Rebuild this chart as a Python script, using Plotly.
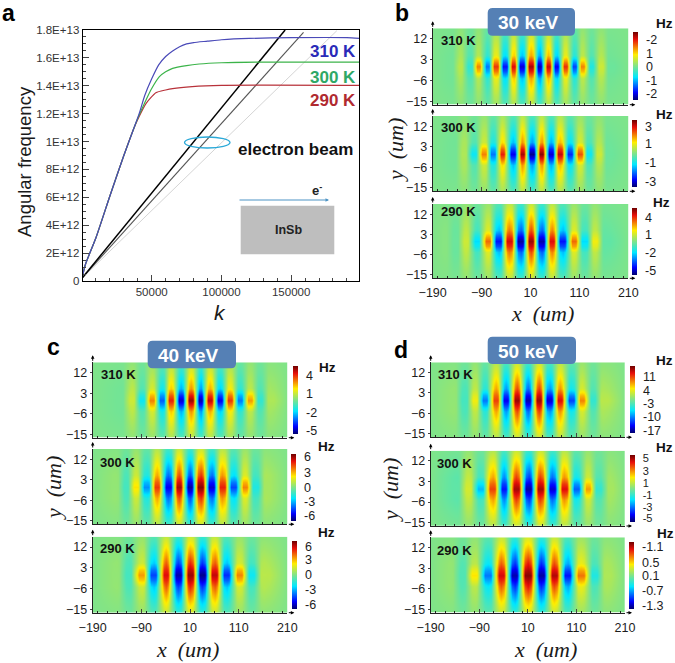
import plotly.graph_objects as go

W, H = 675, 663

# ---------- panel a: dispersion curves ----------
K_310 = [0, 2500, 10000, 20000, 30000, 37000, 41000, 45000, 50000, 55000, 60000, 65000, 70000, 75000, 80000, 90000, 100000, 120000, 150000, 190000, 198900]
W_310 = [0.2e12, 1.2e12, 3.1e12, 6.1e12, 9.0e12, 1.09e13, 1.2e13, 1.33e13, 1.45e13, 1.55e13, 1.61e13, 1.65e13, 1.68e13, 1.70e13, 1.71e13, 1.72e13, 1.73e13, 1.74e13, 1.745e13, 1.745e13, 1.74e13]
K_300 = [0, 2500, 10000, 20000, 30000, 37000, 41000, 46000, 50000, 55500, 60000, 65000, 75000, 84000, 100000, 130000, 198900]
W_300 = [0.2e12, 1.2e12, 3.1e12, 6.1e12, 9.0e12, 1.09e13, 1.19e13, 1.30e13, 1.38e13, 1.465e13, 1.50e13, 1.525e13, 1.545e13, 1.556e13, 1.565e13, 1.57e13, 1.57e13]
K_290 = [0, 2500, 10000, 20000, 30000, 37000, 41000, 46000, 53000, 60000, 65000, 79000, 100000, 198900]
W_290 = [0.2e12, 1.2e12, 3.1e12, 6.1e12, 9.0e12, 1.09e13, 1.18e13, 1.274e13, 1.35e13, 1.37e13, 1.38e13, 1.394e13, 1.403e13, 1.403e13]
BEAM_50_K = [0, 145700]
BEAM_50_W = [0.2e12, 1.8e13]
BEAM_40_K = [0, 158900]
BEAM_40_W = [0.2e12, 1.783e13]
BEAM_30_K = [0, 182800]
BEAM_30_W = [0.2e12, 1.795e13]
A_XTICKS = [50000, 100000, 150000]
A_YTICKS = [0, 2e12, 4e12, 6e12, 8e12, 1e13, 1.2e13, 1.4e13, 1.6e13, 1.8e13]
A_YLABELS = ["0", "2E+12", "4E+12", "6E+12", "8E+12", "1E+13", "1.2E+13", "1.4E+13", "1.6E+13", "1.8E+13"]

# ---------- field maps: stripe centres (um), value along y=0, value at |y|=5 ----------
B310_X = [-190,-152,-134,-114,-97,-79,-61,-43,-25,-8,10,28,46,63,81,99,116,134,153,172,210]
B310_CORE = [0,-.03,.15,-.2,.55,-.55,.7,-.75,.8,-.85,.9,-.9,.85,-.8,.72,-.65,.55,-.25,.2,-.05,0]
B310_MID = [0,-.03,.1,-.1,.12,-.18,.25,-.3,.35,-.35,.42,-.4,.38,-.32,.25,-.2,.14,-.1,.12,-.03,0]
B300_X = [-190,-148,-127,-105,-86,-67,-48,-27,-7,12,32,51,70,90,110,129,149,168,210]
B300_CORE = [0,-.03,.12,-.3,.55,-.55,.75,-.8,.9,-.95,.95,-.85,.85,-.7,.65,-.3,.2,-.05,0]
B300_MID = [0,-.03,.1,-.1,.18,-.22,.32,-.36,.45,-.42,.45,-.38,.38,-.28,.2,-.12,.12,-.04,0]
B290_X = [-190,-165,-144,-122,-100,-78,-56,-34,-11,10,32,53,75,98,120,142,162,210]
B290_CORE = [0,.02,-.05,.2,-.35,.6,-.75,.82,-.92,.92,-.9,.8,-.75,.6,-.35,.3,-.08,0]
B290_MID = [0,.02,-.05,.15,-.14,.22,-.36,.5,-.52,.58,-.52,.48,-.36,.22,-.14,.15,-.06,0]
C310_X = [-190,-132,-110,-89,-69,-49,-29,-9,11,31,51,72,92,112,132,153,174,210]
C310_CORE = [0,-.03,.2,-.3,.55,-.6,.75,-.85,.92,-.9,.85,-.8,.7,-.55,.5,-.2,.12,0]
C310_MID = [0,-.03,.14,-.1,.2,-.25,.35,-.38,.45,-.42,.4,-.32,.28,-.18,.14,-.1,.08,0]
C300_X = [-190,-144,-122,-101,-80,-58,-35,-13,9,31,54,76,99,122,144,166,210]
C300_CORE = [0,.05,-.15,.35,-.5,.7,-.8,.9,-.92,.95,-.85,.75,-.65,.55,-.25,.1,0]
C300_MID = [0,.05,-.12,.18,-.22,.42,-.5,.58,-.55,.62,-.5,.45,-.3,.22,-.14,.1,0]
C290_X = [-190,-141,-117,-89,-65,-40,-15,10,35,60,85,111,135,161,210]
C290_CORE = [0,.05,-.15,.5,-.65,.8,-.9,.92,-.95,.85,-.7,.55,-.3,.15,0]
C290_MID = [0,.05,-.12,.18,-.34,.55,-.58,.65,-.6,.55,-.35,.2,-.14,.12,0]
D310_X = [-190,-143,-121,-100,-78,-57,-35,-13,10,32,54,76,99,121,143,165,210]
D310_CORE = [0,.05,-.15,.3,-.55,.68,-.8,.92,-.9,.92,-.85,.8,-.65,.55,-.2,.15,0]
D310_MID = [0,.05,-.12,.15,-.2,.42,-.42,.58,-.5,.6,-.42,.45,-.25,.2,-.1,.1,0]
D300_X = [-190,-137,-113,-89,-63,-40,-15,11,35,60,84,109,133,155,178,210]
D300_CORE = [0,-.08,.22,-.42,.68,-.75,.9,-.92,.9,-.85,.8,-.6,.5,-.2,.1,0]
D300_MID = [0,-.08,.16,-.14,.42,-.45,.6,-.58,.6,-.5,.45,-.25,.18,-.1,.08,0]
D290_X = [-190,-150,-126,-100,-73,-45,-18,10,37,64,91,119,146,172,210]
D290_CORE = [0,.05,-.12,.35,-.55,.82,-.9,.95,-.92,.88,-.75,.58,-.25,.12,0]
D290_MID = [0,.05,-.1,.14,-.28,.55,-.6,.68,-.62,.58,-.4,.25,-.12,.1,0]

# rows of the map: y, share of the y=0 value, share of the |y|=5 value
ROW_Y = [-16.5, -12, -5, -2, 0, 2, 5, 12, 16.5]
ROW_CORE = [0, 0, 0, .68, 1, .68, 0, 0, 0]
ROW_MID = [.33, .62, 1.15, .36, 0, .36, 1.15, .62, .33]
# shoulder of a stripe: distance from its centre (share of the gap to the neighbour)
# and the share of the stripe's value kept there at y=0 and away from y=0
SHOULDER = 0.2
SHOULDER_CORE = 1.0
SHOULDER_MID = 0.85
X_TICKS = [-190, -90, 10, 110, 210]
Y_TICKS = [12, 3, -6, -15]

# colour bar labels (position on the scale, text)
B310_CB = ([.79, .38, -.01, -.44, -.82], ["-2", "1", "0", "-1", "-2"])
B300_CB = ([.80, .29, -.26, -.83], ["3", "1", "-1", "-3"])
B290_CB = ([.71, .21, -.34, -.88], ["4", "1", "-2", "-5"])
C310_CB = ([.73, .21, -.35, -.90], ["4", "1", "-2", "-5"])
C300_CB = ([.92, .43, -.01, -.44, -.85], ["6", "3", "0", "-3", "-6"])
C290_CB = ([.82, .43, -.01, -.44, -.90], ["6", "3", "0", "-3", "-6"])
D310_CB = ([.68, .27, -.13, -.52, -.93], ["11", "4", "-3", "-10", "-17"])
D300_CB = ([.90, .52, .17, -.20, -.57, -.90], ["5", "3", "1", "-1", "-3", "-5"])
D290_CB = ([.85, .38, -.02, -.47, -.90], ["-1.1", "0.5", "0.1", "-0.7", "-1.3"])

JET = [[0, "#00006e"], [0.11, "#0000ff"], [0.335, "#00e8ff"], [0.5, "#7fe48a"],
       [0.665, "#ffee00"], [0.89, "#e8100a"], [1, "#6e0000"]]
SANS = "Liberation Sans, Arial, sans-serif"
SERIF = "Liberation Serif, Times New Roman, serif"
INK = "#1c1c1c"

def px(v): return v / W
def py(v): return 1 - v / H

PANELS = [
    (B310_X, B310_CORE, B310_MID, B310_CB, (432.7, 628.3, 28.3, 104.7), (632.7, 32.3, 100)),
    (B300_X, B300_CORE, B300_MID, B300_CB, (432.7, 628.3, 116, 191.3), (632.3, 120, 187)),
    (B290_X, B290_CORE, B290_MID, B290_CB, (432.7, 628.3, 204, 278.3), (631.7, 207.7, 275)),
    (C310_X, C310_CORE, C310_MID, C310_CB, (92.7, 287.3, 362.3, 437.7), (292.7, 366.7, 434.3)),
    (C300_X, C300_CORE, C300_MID, C300_CB, (92.7, 287.3, 449, 524.3), (291, 453.3, 520.7)),
    (C290_X, C290_CORE, C290_MID, C290_CB, (92.7, 287.3, 536.7, 612.7), (291.7, 540.7, 608.3)),
    (D310_X, D310_CORE, D310_MID, D310_CB, (430.7, 625, 362.3, 437.3), (630.3, 366, 433.3)),
    (D300_X, D300_CORE, D300_MID, D300_CB, (430.7, 625, 450.7, 526), (630, 455, 521.7)),
    (D290_X, D290_CORE, D290_MID, D290_CB, (430.7, 625, 537.3, 612.7), (629, 541.7, 608.3)),
]

fig = go.Figure()
CURVES = [
    (BEAM_30_K, BEAM_30_W, "#d4d4d4", 1), (BEAM_40_K, BEAM_40_W, "#555555", 1.1), (BEAM_50_K, BEAM_50_W, "#000000", 1.5),
    (K_290, W_290, "#b8323a", 1.2), (K_300, W_300, "#3cb44a", 1.2), (K_310, W_310, "#4a4ab8", 1.2),
]
for kx, wy, col, lw in CURVES:
    fig.add_trace(go.Scatter(x=kx, y=wy, mode="lines", line=dict(color=col, width=lw, shape="spline", smoothing=0.6),
                             hoverinfo="skip", showlegend=False))

layout = dict(
    width=W, height=H, margin=dict(l=0, r=0, t=0, b=0, autoexpand=False), paper_bgcolor="white", plot_bgcolor="white",
    showlegend=False, font=dict(family=SANS, color=INK),
    xaxis=dict(domain=[px(82.7), px(359.3)], range=[500, 198900], tickvals=A_XTICKS, ticks="inside", ticklen=6,
               tickfont=dict(size=11.5, color="#333333"), showgrid=False, zeroline=False, showline=True, linecolor="black",
               linewidth=1.2, mirror=True, minor=dict(dtick=10000, ticks="inside", ticklen=3, tickcolor="#444444"),
               tickformat="d", ticklabelstandoff=0),
    yaxis=dict(domain=[py(281), py(30)], range=[0, 1.8e13], tickvals=A_YTICKS, ticktext=A_YLABELS, ticks="inside", ticklen=6,
               tickfont=dict(size=11.5, color="#333333"), showgrid=False, zeroline=False, showline=True, linecolor="black",
               linewidth=1.2, mirror=True, minor=dict(dtick=5e11, ticks="inside", ticklen=3, tickcolor="#444444")),
)

annotations = []
shapes = []

def text(x, y, s, size, bold=False, color=INK, family=SANS, angle=0, anchor="center"):
    annotations.append(dict(xref="paper", yref="paper", x=px(x), y=py(y), text=f"<b>{s}</b>" if bold else s,
                            showarrow=False, xanchor=anchor, yanchor="middle", textangle=angle,
                            font=dict(size=size, color=color, family=family)))

def arrow(x0, y0, x1, y1, color="black", size=0.7, width=1):
    annotations.append(dict(xref="paper", yref="paper", axref="pixel", ayref="pixel", x=px(x1), y=py(y1), ax=x0 - x1, ay=y0 - y1,
                            text="", showarrow=True, arrowhead=2, arrowsize=size, arrowwidth=width, arrowcolor=color))

def badge(l, r, t, b, label):
    R = 5
    path = (f"M {px(l+R)} {py(t)} L {px(r-R)} {py(t)} Q {px(r)} {py(t)} {px(r)} {py(t+R)} "
            f"L {px(r)} {py(b-R)} Q {px(r)} {py(b)} {px(r-R)} {py(b)} L {px(l+R)} {py(b)} "
            f"Q {px(l)} {py(b)} {px(l)} {py(b-R)} L {px(l)} {py(t+R)} Q {px(l)} {py(t)} {px(l+R)} {py(t)} Z")
    shapes.append(dict(type="path", xref="paper", yref="paper", path=path, fillcolor="#5580B5", line=dict(width=0), layer="above"))
    text((l + r) / 2 - 3, (t + b) / 2 + 1, label, 19, bold=True, color="white")

def shoulder_columns(xs, values, keep):
    cols, vals = [xs[0]], [values[0]]
    for j in range(1, len(xs) - 1):
        cols += [xs[j] - SHOULDER * (xs[j] - xs[j - 1]), xs[j], xs[j] + SHOULDER * (xs[j + 1] - xs[j])]
        vals += [values[j] * keep, values[j], values[j] * keep]
    return cols + [xs[-1]], vals + [values[-1]]

for i, (xs, core, mid, cb, (l, r, t, b), (cl, ct, cb_b)) in enumerate(PANELS):
    n = i + 2
    cols, core_z = shoulder_columns(xs, core, SHOULDER_CORE)
    _, mid_z = shoulder_columns(xs, mid, SHOULDER_MID)
    z = [[wc * c + wm * m for c, m in zip(core_z, mid_z)] for wc, wm in zip(ROW_CORE, ROW_MID)]
    cb_size = 11 if len(cb[0]) > 5 else 12.5
    fig.add_trace(go.Heatmap(
        x=cols, y=ROW_Y, z=z, zsmooth="best", zmin=-1, zmax=1, colorscale=JET, xaxis=f"x{n}", yaxis=f"y{n}", hoverinfo="skip",
        colorbar=dict(x=px(cl), xanchor="left", xpad=0, ypad=0, y=py((ct + cb_b) / 2), yanchor="middle",
                      len=(cb_b - ct) / H, thickness=5, outlinewidth=0, tickmode="array", tickvals=cb[0], ticktext=cb[1],
                      ticks="outside", ticklen=6, tickcolor="rgba(0,0,0,0)", tickfont=dict(size=cb_size, color=INK, family=SANS))))
    bottom = i % 3 == 2
    layout[f"xaxis{n}"] = dict(domain=[px(l), px(r)], range=[-190, 210], anchor=f"y{n}", tickvals=X_TICKS,
                               showticklabels=bottom, ticks="inside", ticklen=4, showgrid=False, zeroline=False,
                               showline=True, linecolor="#222222", linewidth=1, tickfont=dict(size=12.5, color=INK),
                               minor=dict(dtick=20, ticks="inside", ticklen=2, tickcolor="#222222"), ticklabelstandoff=3)
    layout[f"yaxis{n}"] = dict(domain=[py(b), py(t)], range=[-16.5, 16.5], anchor=f"x{n}", tickvals=Y_TICKS, ticks="outside",
                               ticklen=2, showgrid=False, zeroline=False, showline=True, linecolor="#222222", linewidth=1,
                               tickfont=dict(size=12.5, color=INK))
    arrow(r, b, r + 7, b)
    arrow(l, t, l, t - 7)

# curve labels and inset of panel a
text(358, 52, "310 K", 17, True, "#2a2ab8", anchor="right")
text(358, 77, "300 K", 17, True, "#2fa866", anchor="right")
text(358, 100, "290 K", 17, True, "#b02a30", anchor="right")
shapes.append(dict(type="circle", xref="paper", yref="paper", x0=px(184.5), x1=px(230), y0=py(137), y1=py(148),
                   line=dict(color="#2aa9d8", width=1.3), layer="above"))
text(236, 149, "electron beam", 17, True, "#111111", anchor="left")
shapes.append(dict(type="rect", xref="paper", yref="paper", x0=px(240.7), x1=px(334.3), y0=py(205.7), y1=py(254.3),
                   fillcolor="#bebebe", line=dict(width=0), layer="above"))
text(288, 230, "InSb", 12.5, True, "#222222")
arrow(238, 200, 329, 200, "#4d93c4", 0.7, 1)
text(317, 190, "e<sup>-</sup>", 13, True, "#222222")

# panel letters
text(8, 13, "a", 23, True, "black")
text(402, 13, "b", 23, True, "black")
text(53, 347, "c", 23, True, "black")
text(401, 350, "d", 23, True, "black")

# energy badges
badge(487.7, 575, 8, 35.7, "30 keV")
badge(147.7, 236, 340.7, 368.3, "40 keV")
badge(487.7, 576, 336.7, 364, "50 keV")

# temperature tags
for x, y, s in [(458, 40.7, "310 K"), (458, 127.3, "300 K"), (458, 211.7, "290 K"),
                (118, 374, "310 K"), (117, 462.7, "300 K"), (117, 548.3, "290 K"),
                (455, 374.3, "310 K"), (454, 464, "300 K"), (454, 550, "290 K")]:
    text(x, y, s, 13, True, "#111111")

# colour bar units
for x, y in [(664, 24), (664.7, 114), (661.7, 202.7), (327, 367.7), (326.7, 446.7), (326.7, 532.7),
             (664, 360), (664, 447.3), (665, 533)]:
    text(x, y, "Hz", 13.5, True, "#111111")

# axis titles
text(24, 162, "Angular frequency", 18.5, False, "#1a1a1a", angle=-90)
text(220, 312, "<i>k</i>", 21, False, "#1a1a1a")
for x, y in [(396, 150), (53, 488), (390, 490)]:
    text(x, y, "<i>y  (um)</i>", 22, False, "#1a1a1a", family=SERIF, angle=-90)
for x, y in [(542, 313), (187, 649), (545, 649)]:
    text(x, y, "<i>x  (um)</i>", 22, False, "#1a1a1a", family=SERIF)

layout["annotations"] = annotations
layout["shapes"] = shapes
fig.update_layout(**layout)
fig.write_html("out.html", config=dict(displayModeBar=False), post_script="document.body.style.margin='0';")
